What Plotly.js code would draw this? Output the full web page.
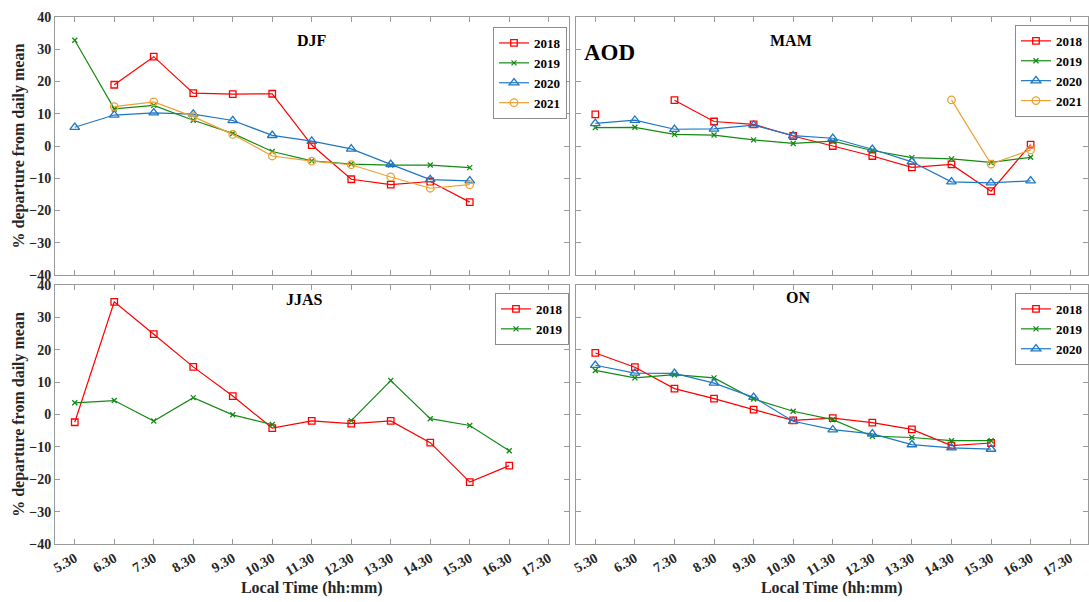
<!DOCTYPE html>
<html>
<head>
<meta charset="utf-8">
<script src="https://cdn.plot.ly/plotly-3.0.1.min.js"></script>
<style>html,body{margin:0;padding:0;background:#fff;}#chart{width:1089px;height:602px;}</style>
</head>
<body>
<div id="chart"></div>
<script>
// Local time categories (hh:mm)
const times = ['5.30','6.30','7.30','8.30','9.30','10.30','11.30','12.30','13.30','14.30','15.30','16.30','17.30'];
const dataTimes = times.slice(0, 12);
const yTicks = [-40, -30, -20, -10, 0, 10, 20, 30, 40];

// DJF
const djf2018 = [null, 19.0, 27.7, 16.4, 16.1, 16.2, 0.3, -10.3, -12.0, -11.0, -17.4, null];
const djf2019 = [32.8, 11.5, 12.6, 8.0, 3.9, -1.7, -4.6, -5.6, -5.9, -5.9, -6.7, null];
const djf2020 = [5.8, 9.6, 10.3, 9.9, 7.9, 3.3, 1.5, -0.9, -5.7, -10.4, -10.8, null];
const djf2021 = [null, 12.2, 13.7, 9.1, 3.6, -3.1, -4.7, -5.8, -9.6, -13.1, -12.0, null];
// MAM
const mam2018 = [9.8, null, 14.2, 7.6, 6.7, 3.1, 0.0, -3.1, -6.6, -5.7, -14.0, 0.4];
const mam2019 = [5.7, 5.8, 3.6, 3.4, 1.9, 0.8, 1.5, -1.4, -3.6, -4.0, -5.1, -3.5];
const mam2020 = [7.0, 8.0, 5.2, 5.3, 6.5, 3.2, 2.4, -1.0, -4.9, -11.1, -11.4, -10.8];
const mam2021 = [null, null, null, null, null, null, null, null, null, 14.3, -5.6, -1.2];
// JJAS
const jjas2018 = [-2.4, 34.8, 24.8, 14.7, 5.7, -4.2, -2.0, -2.8, -2.0, -8.7, -20.9, -15.8];
const jjas2019 = [3.6, 4.3, -2.0, 5.2, -0.1, -3.1, null, -1.9, 10.5, -1.3, -3.4, -11.2];
// ON
const on2018 = [19.0, 14.6, 8.0, 4.9, 1.5, -1.8, -1.1, -2.5, -4.6, -9.6, -8.8, null];
const on2019 = [13.6, 11.3, 12.3, 11.3, 4.8, 1.0, -1.6, -6.7, -7.1, -8.1, -8.1, null];
const on2020 = [15.2, 12.8, 12.7, 9.7, 5.3, -2.1, -4.7, -6.0, -9.3, -10.3, -10.7, null];

const styles = {
  '2018': {color: '#ff0000', symbol: 'square-open', size: 6.5},
  '2019': {color: '#138a13', symbol: 'x-thin-open', size: 5},
  '2020': {color: '#1f77c4', symbol: 'triangle-up-open', size: 8.5},
  '2021': {color: '#eea033', symbol: 'circle-open', size: 7.5}
};

function tr(name, y, xa, ya, leg) {
  const s = styles[name];
  return {
    x: dataTimes, y: y, name: name, type: 'scatter', mode: 'lines+markers',
    xaxis: xa, yaxis: ya, legend: leg,
    line: {color: s.color, width: 1.2},
    marker: {symbol: s.symbol, size: s.size, color: s.color, line: {color: s.color, width: 1.3}},
    connectgaps: false
  };
}

const traces = [
  tr('2018', djf2018, 'x', 'y', 'legend'),
  tr('2019', djf2019, 'x', 'y', 'legend'),
  tr('2020', djf2020, 'x', 'y', 'legend'),
  tr('2021', djf2021, 'x', 'y', 'legend'),
  tr('2018', mam2018, 'x2', 'y2', 'legend2'),
  tr('2019', mam2019, 'x2', 'y2', 'legend2'),
  tr('2020', mam2020, 'x2', 'y2', 'legend2'),
  tr('2021', mam2021, 'x2', 'y2', 'legend2'),
  tr('2018', jjas2018, 'x3', 'y3', 'legend3'),
  tr('2019', jjas2019, 'x3', 'y3', 'legend3'),
  tr('2018', on2018, 'x4', 'y4', 'legend4'),
  tr('2019', on2019, 'x4', 'y4', 'legend4'),
  tr('2020', on2020, 'x4', 'y4', 'legend4')
];

const serif = '"Liberation Serif", "Times New Roman", serif';
const tickFont = {family: serif, size: 14, color: '#262626', weight: 'bold'};
const axLine = '#9a9a9a';

function xax(domain, anchor, showLabels, rangeEnd) {
  const a = {
    domain: domain, anchor: anchor, type: 'category',
    categoryorder: 'array', categoryarray: times,
    range: [-0.5, rangeEnd], fixedrange: true,
    showline: true, linecolor: axLine, linewidth: 1, mirror: 'ticks',
    ticks: 'inside', ticklen: 5, tickcolor: axLine,
    showgrid: false, zeroline: false,
    showticklabels: showLabels, tickangle: -30, tickfont: tickFont
  };
  if (showLabels) {
    a.title = {text: 'Local Time (hh:mm)', font: {family: serif, size: 16, color: '#262626', weight: 'bold'}, standoff: 2};
  }
  return a;
}
function yax(domain, anchor, showLabels) {
  const a = {
    domain: domain, anchor: anchor, range: [-40, 40], tickvals: yTicks,
    showline: true, linecolor: axLine, linewidth: 1, mirror: 'ticks',
    ticks: 'inside', ticklen: 5, tickcolor: axLine,
    showgrid: false, zeroline: false, fixedrange: true,
    showticklabels: showLabels, tickfont: tickFont, automargin: false
  };
  if (showLabels) {
    a.title = {text: '% departure from daily mean', font: {family: serif, size: 16, color: '#262626', weight: 'bold'}, standoff: 0};
  }
  return a;
}

const legFont = {family: serif, size: 13, color: '#000', weight: 'bold'};
function leg(x, y) {
  return {x: x, y: y, xanchor: 'left', yanchor: 'top', xref: 'paper', yref: 'paper',
    bgcolor: '#ffffff', bordercolor: '#8c8c8c', borderwidth: 1, font: legFont,
    itemwidth: 30, tracegroupgap: 0};
}

const xL = [0, 0.4971], xR = [0.5039, 1];
const yT = [0.5104, 1], yB = [0, 0.4915];

const titleFont = {family: serif, size: 16, color: '#000', weight: 'bold'};
const layout = {
  width: 1089, height: 602,
  margin: {l: 55, r: 0, t: 17, b: 58},
  paper_bgcolor: '#ffffff', plot_bgcolor: '#ffffff',
  showlegend: true,
  xaxis: xax(xL, 'y', false, 12.5),
  yaxis: yax(yT, 'x', true),
  xaxis2: xax(xR, 'y2', false, 12.45),
  yaxis2: yax(yT, 'x2', false),
  xaxis3: xax(xL, 'y3', true, 12.5),
  yaxis3: yax(yB, 'x3', true),
  xaxis4: xax(xR, 'y4', true, 12.45),
  yaxis4: yax(yB, 'x4', false),
  legend: leg(0.4236, 0.981),
  legend2: leg(0.9284, 0.985),
  legend3: leg(0.4255, 0.4763),
  legend4: leg(0.929, 0.4763),
  annotations: [
    {text: 'DJF', x: 0.232, y: 0.975, xref: 'paper', yref: 'paper', showarrow: false, font: titleFont},
    {text: 'MAM', x: 0.735, y: 0.975, xref: 'paper', yref: 'paper', showarrow: false, font: titleFont},
    {text: 'JJAS', x: 0.2215, y: 0.463, xref: 'paper', yref: 'paper', showarrow: false, font: titleFont},
    {text: 'ON', x: 0.733, y: 0.467, xref: 'paper', yref: 'paper', showarrow: false, font: titleFont},
    {text: 'AOD', x: 0.5106, y: 0.960, xref: 'paper', yref: 'paper', xanchor: 'left', showarrow: false,
     font: {family: serif, size: 23, color: '#000', weight: 'bold'}}
  ]
};

Plotly.newPlot('chart', traces, layout, {displayModeBar: false, staticPlot: true});
</script>
</body>
</html>
